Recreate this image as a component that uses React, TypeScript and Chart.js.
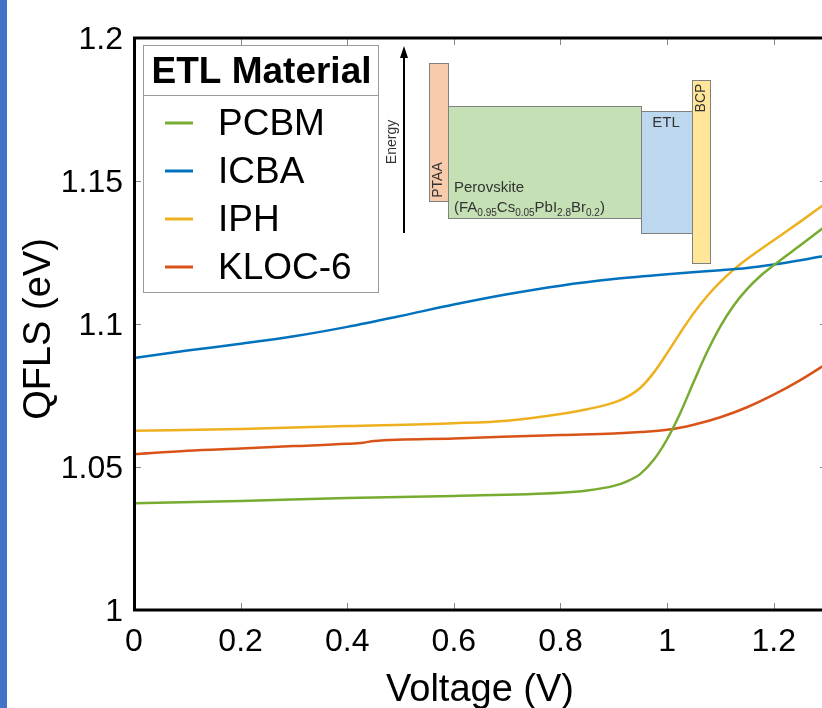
import React, { useEffect, useRef } from "react";
import { Chart, registerables } from "chart.js";

Chart.register(...registerables);

const FONT = "'Liberation Sans', Arial, Helvetica, sans-serif";

const seriesNames = ["PCBM", "ICBA", "IPH", "KLOC-6"];
const seriesColors = ["#77AC30", "#0072BD", "#EDB120", "#D95319"];

const pcbmV = [0, 0.2, 0.4, 0.6, 0.8, 0.85, 0.9, 0.925, 0.95, 0.975, 1.0, 1.025, 1.05, 1.075, 1.1, 1.125, 1.15, 1.175, 1.2, 1.25, 1.3];
const pcbmQ = [1.0373, 1.0381, 1.0392, 1.0399, 1.041, 1.0418, 1.0434, 1.045, 1.0476, 1.0525, 1.0597, 1.069, 1.0798, 1.0902, 1.0992, 1.1065, 1.1122, 1.1168, 1.1205, 1.1275, 1.1346];

const icbaV = [0, 0.1, 0.2, 0.3, 0.4, 0.5, 0.6, 0.7, 0.8, 0.9, 1.0, 1.1, 1.15, 1.2, 1.25, 1.3];
const icbaQ = [1.0881, 1.0907, 1.0931, 1.0957, 1.099, 1.1028, 1.1068, 1.1104, 1.1134, 1.1157, 1.1174, 1.1188, 1.1196, 1.1208, 1.1223, 1.124];

const iphV = [0, 0.2, 0.4, 0.6, 0.7, 0.8, 0.85, 0.9, 0.925, 0.95, 0.975, 1.0, 1.025, 1.05, 1.075, 1.1, 1.125, 1.15, 1.2, 1.25, 1.3];
const iphQ = [1.0627, 1.0633, 1.0643, 1.0653, 1.0662, 1.0685, 1.0702, 1.0725, 1.0745, 1.0777, 1.083, 1.0898, 1.097, 1.1038, 1.1097, 1.1147, 1.119, 1.1227, 1.1293, 1.1358, 1.1425];

const klocV = [0, 0.1, 0.2, 0.3, 0.4, 0.43, 0.45, 0.6, 0.8, 0.9, 0.95, 1.0, 1.05, 1.1, 1.15, 1.2, 1.25, 1.3];
const klocQ = [1.0545, 1.0557, 1.0565, 1.0573, 1.0581, 1.0585, 1.0591, 1.06, 1.0612, 1.0617, 1.0622, 1.063, 1.0648, 1.0674, 1.0709, 1.0753, 1.0804, 1.0862];

const seriesV = [pcbmV, icbaV, iphV, klocV];
const seriesQ = [pcbmQ, icbaQ, iphQ, klocQ];

const xTickValues = [0, 0.2, 0.4, 0.6, 0.8, 1.0, 1.2];
const yTickValues = [1.0, 1.05, 1.1, 1.15, 1.2];

const xTitle = "Voltage (V)";
const yTitle = "QFLS (eV)";
const legendTitle = "ETL Material";

const fmt = (v: number) => String(Math.round(v * 100) / 100);

const decorPlugin = {
  id: "decor",
  afterDraw(chart: any) {
    const ctx: CanvasRenderingContext2D = chart.ctx;
    const { left, top, right, bottom } = chart.chartArea;
    const xs = chart.scales.x;
    const ys = chart.scales.y;
    ctx.save();

    // ---- inset energy diagram ----
    const ox = left;
    const oy = top;
    const box = (x1: number, y1: number, x2: number, y2: number, fill: string) => {
      ctx.fillStyle = fill;
      ctx.fillRect(ox + x1, oy + y1, x2 - x1, y2 - y1);
      ctx.strokeStyle = "#808080";
      ctx.lineWidth = 1;
      ctx.strokeRect(ox + x1 + 0.5, oy + y1 + 0.5, x2 - x1, y2 - y1);
    };
    box(314, 68, 507, 180, "#C5E0B4");
    box(295, 25, 314, 163, "#F8CBAD");
    box(507, 73, 558, 195, "#BDD7EE");
    box(558, 42, 576, 225, "#FFE699");

    ctx.strokeStyle = "#000";
    ctx.lineWidth = 2;
    ctx.beginPath();
    ctx.moveTo(ox + 270, oy + 195);
    ctx.lineTo(ox + 270, oy + 18);
    ctx.stroke();
    ctx.fillStyle = "#000";
    ctx.beginPath();
    ctx.moveTo(ox + 270, oy + 8);
    ctx.lineTo(ox + 266, oy + 20);
    ctx.lineTo(ox + 274, oy + 20);
    ctx.closePath();
    ctx.fill();

    ctx.fillStyle = "#333";
    ctx.textAlign = "center";
    ctx.textBaseline = "middle";
    const rot = (t: string, x: number, y: number, size: number) => {
      ctx.save();
      ctx.translate(ox + x, oy + y);
      ctx.rotate(-Math.PI / 2);
      ctx.font = `${size}px ${FONT}`;
      ctx.fillText(t, 0, 0);
      ctx.restore();
    };
    rot("Energy", 258, 104, 14);
    rot("PTAA", 304.5, 142, 14);
    rot("BCP", 567, 60, 14);
    ctx.font = `15px ${FONT}`;
    ctx.fillText("ETL", ox + 532, oy + 85);

    ctx.textAlign = "left";
    ctx.textBaseline = "alphabetic";
    ctx.font = `15px ${FONT}`;
    ctx.fillText("Perovskite", ox + 320, oy + 154);
    const parts: [string, boolean][] = [
      ["(FA", false], ["0.95", true], ["Cs", false], ["0.05", true],
      ["PbI", false], ["2.8", true], ["Br", false], ["0.2", true], [")", false],
    ];
    let px = ox + 320;
    const by = oy + 174;
    for (const [t, sub] of parts) {
      ctx.font = sub ? `10px ${FONT}` : `15px ${FONT}`;
      ctx.fillText(t, px, sub ? by + 4 : by);
      px += ctx.measureText(t).width;
    }

    // ---- legend ----
    const lx1 = 143, ly1 = 45, lx2 = 378, ly2 = 292;
    ctx.fillStyle = "#fff";
    ctx.fillRect(lx1, ly1, lx2 - lx1, ly2 - ly1);
    ctx.strokeStyle = "#9a9a9a";
    ctx.lineWidth = 1;
    ctx.strokeRect(lx1 + 0.5, ly1 + 0.5, lx2 - lx1, ly2 - ly1);
    ctx.beginPath();
    ctx.moveTo(lx1, 95.5);
    ctx.lineTo(lx2, 95.5);
    ctx.stroke();
    ctx.fillStyle = "#000";
    ctx.textAlign = "center";
    ctx.textBaseline = "middle";
    ctx.font = `bold 37px ${FONT}`;
    ctx.fillText(legendTitle, (lx1 + lx2) / 2 + 1, 73);
    ctx.textAlign = "left";
    ctx.font = `37px ${FONT}`;
    chart.data.datasets.forEach((ds: any, i: number) => {
      const yy = 123 + 48 * i;
      ctx.strokeStyle = ds.borderColor;
      ctx.lineWidth = 3;
      ctx.beginPath();
      ctx.moveTo(165, yy);
      ctx.lineTo(193, yy);
      ctx.stroke();
      ctx.fillStyle = "#000";
      ctx.fillText(ds.label, 218, yy + 2);
    });

    // ---- axis titles ----
    ctx.fillStyle = "#000";
    ctx.font = `38px ${FONT}`;
    ctx.textAlign = "center";
    ctx.textBaseline = "alphabetic";
    ctx.fillText(xTitle, 480, 701);
    ctx.save();
    ctx.translate(50, 329);
    ctx.rotate(-Math.PI / 2);
    ctx.fillText(yTitle, 0, 0);
    ctx.restore();

    // ---- inward ticks ----
    ctx.strokeStyle = "#888";
    ctx.lineWidth = 1;
    ctx.beginPath();
    xs.ticks.forEach((t: any) => {
      const x = Math.round(xs.getPixelForValue(t.value)) + 0.5;
      ctx.moveTo(x, bottom);
      ctx.lineTo(x, bottom - 7);
      ctx.moveTo(x, top);
      ctx.lineTo(x, top + 7);
    });
    ys.ticks.forEach((t: any) => {
      const y = Math.round(ys.getPixelForValue(t.value)) + 0.5;
      ctx.moveTo(left, y);
      ctx.lineTo(left + 7, y);
      ctx.moveTo(right, y);
      ctx.lineTo(right - 7, y);
    });
    ctx.stroke();

    // ---- frame ----
    ctx.strokeStyle = "#000";
    ctx.lineWidth = 3;
    ctx.strokeRect(left + 0.5, top, right - left, bottom - top);

    // ---- left blue strip ----
    ctx.fillStyle = "#4472C4";
    ctx.fillRect(0, 0, 7, chart.height);

    ctx.restore();
  },
};

export default function App() {
  const ref = useRef<HTMLCanvasElement | null>(null);

  useEffect(() => {
    if (!ref.current) return;
    const chart = new Chart(ref.current, {
      type: "line",
      data: {
        datasets: seriesNames.map((name, i) => ({
          label: name,
          data: seriesV[i].map((v, j) => ({ x: v, y: seriesQ[i][j] })),
          borderColor: seriesColors[i],
          backgroundColor: seriesColors[i],
          borderWidth: 2.5,
          pointRadius: 0,
          fill: false,
          cubicInterpolationMode: "monotone" as const,
        })),
      },
      options: {
        responsive: false,
        animation: false,
        layout: { padding: { top: 38, right: 1, left: 0, bottom: 0 } },
        plugins: {
          legend: { display: false },
          tooltip: { enabled: false },
          title: { display: false },
        },
        scales: {
          x: {
            type: "linear",
            min: 0,
            max: 1.3,
            afterBuildTicks: (s: any) => {
              s.ticks = xTickValues.map((v) => ({ value: v }));
            },
            afterFit: (s: any) => {
              s.height = 98;
            },
            grid: { display: false, drawTicks: false },
            border: { display: false },
            ticks: {
              font: { family: FONT, size: 32, lineHeight: 1.2 },
              color: "#000",
              padding: 13,
              maxRotation: 0,
              autoSkip: false,
              callback: (v: any) => fmt(Number(v)),
            },
            title: { display: false },
          },
          y: {
            type: "linear",
            min: 1.0,
            max: 1.2,
            afterBuildTicks: (s: any) => {
              s.ticks = yTickValues.map((v) => ({ value: v }));
            },
            afterFit: (s: any) => {
              s.width = 134;
            },
            grid: { display: false, drawTicks: false },
            border: { display: false },
            ticks: {
              font: { family: FONT, size: 32, lineHeight: 1.2 },
              color: "#000",
              padding: 11,
              labelOffset: 2,
              autoSkip: false,
              callback: (v: any) => fmt(Number(v)),
            },
            title: { display: false },
          },
        },
      },
      plugins: [decorPlugin],
    });
    return () => chart.destroy();
  }, []);

  return (
    <div
      style={{
        position: "fixed",
        left: 0,
        top: 0,
        width: 822,
        height: 708,
        overflow: "hidden",
        background: "#fff",
      }}
    >
      <canvas ref={ref} width={828} height={708} style={{ display: "block" }} />
    </div>
  );
}
